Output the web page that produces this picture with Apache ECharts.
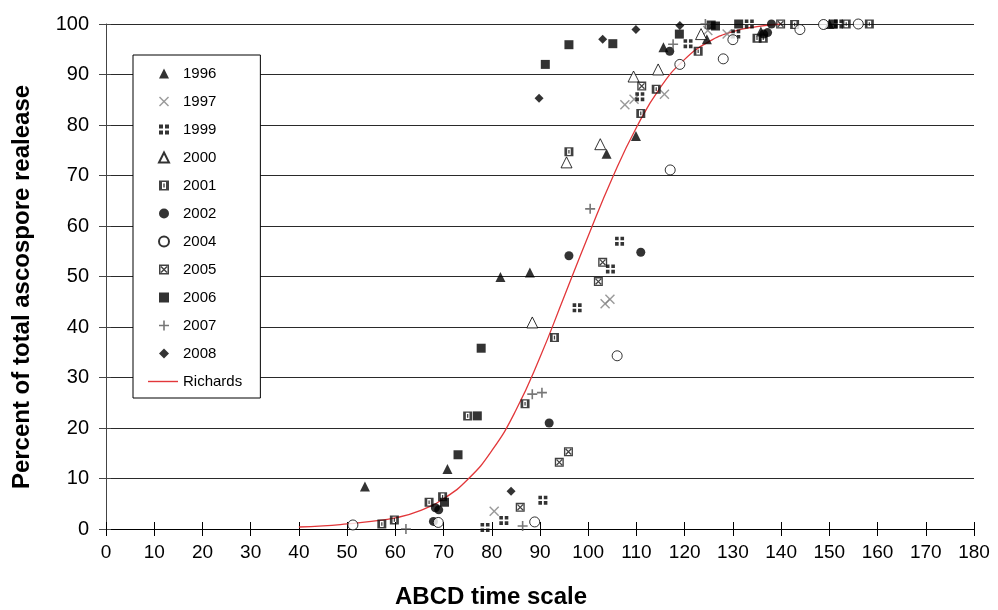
<!DOCTYPE html>
<html>
<head>
<meta charset="utf-8">
<script src="https://cdn.jsdelivr.net/npm/echarts@6/dist/echarts.min.js"></script>
<style>
html,body{margin:0;padding:0;background:#fff;}
#chart{width:998px;height:610px;}
</style>
</head>
<body>
<div id="chart"></div>
<script>
// ---- data ----
var xTicks = [0,10,20,30,40,50,60,70,80,90,100,110,120,130,140,150,160,170,180];
var yTicks = [0,10,20,30,40,50,60,70,80,90,100];

var s1996 = [[53.7,8.4],[70.8,11.9],[81.8,49.9],[87.9,50.8],[103.8,74.3],[109.9,77.8],[115.6,95.4],[124.6,97.0],[135.8,98.5],[150.0,100]];
var s1997 = [[80.5,3.5],[103.5,44.6],[104.5,45.5],[107.6,84.0],[109.5,85.1],[115.8,86.1],[124.8,98.7],[128.8,98.0]];
var s1999 = [[78.6,0.3],[82.5,1.7],[90.6,5.7],[97.7,43.8],[104.6,51.5],[106.5,57.0],[110.7,85.6],[120.7,96.1],[130.6,98.0],[133.4,100],[151.9,100]];
var s2000 = [[88.4,40.9],[95.5,72.6],[102.5,76.2],[109.4,89.6],[114.5,91.0],[123.4,98.0]];
var s2001 = [[57.2,1.0],[59.8,1.8],[67.0,5.3],[69.8,6.4],[75.0,22.4],[86.9,24.8],[93.0,37.9],[96.0,74.7],[110.9,82.3],[114.1,87.1],[122.8,94.6],[135.0,97.2],[136.3,97.2],[142.8,99.9],[153.5,100],[158.3,100]];
var s2002 = [[67.9,1.5],[68.3,4.2],[69.0,3.8],[91.9,21.0],[96.0,54.1],[110.9,54.8],[116.9,94.6],[136.4,98.0],[137.2,98.3],[138.0,100]];
var s2004 = [[51.2,0.8],[68.9,1.3],[88.9,1.4],[106.0,34.3],[117.0,71.1],[119.0,92.0],[128.0,93.1],[130.0,96.9],[143.9,98.9],[148.8,99.9],[156.0,100]];
var s2005 = [[85.9,4.3],[94.0,13.2],[95.9,15.3],[102.1,49.0],[103.0,52.8],[111.1,87.7],[139.9,100]];
var s2006 = [[70.2,5.3],[73.0,14.7],[77.0,22.4],[77.8,35.8],[91.1,92.0],[96.0,95.9],[105.1,96.1],[118.9,98.0],[125.5,99.8],[126.4,99.6],[131.2,100],[150.8,100]];
var s2007 = [[62.2,0],[86.4,0.6],[88.4,26.7],[90.4,27.0],[100.4,63.4],[117.6,96.0],[124.3,100]];
var s2008 = [[84.0,7.5],[89.8,85.3],[103.0,97.0],[109.9,98.9],[119.0,99.7]];
var richards = [[40,0.4],[45,0.6],[50,1.0],[55,1.5],[60,2.2],[65,3.6],[70,6.0],[75,9.8],[80,15.5],[85,23.5],[90,34],[95,46],[100,58],[105,69.5],[110,79.5],[115,87.5],[120,93],[125,96.5],[130,98.5],[135,99.5],[140,100]];

var yearNames = ['1996','1997','1999','2000','2001','2002','2004','2005','2006','2007','2008'];
var curveName = 'Richards';

// ---- symbols ----
var SYM_X = 'path://M0,1 L1,0 L5,4 L9,0 L10,1 L6,5 L10,9 L9,10 L5,6 L1,10 L0,9 L4,5 Z';
var SYM_4SQ = 'path://M0,0h4v4h-4z M6,0h4v4h-4z M0,6h4v4h-4z M6,6h4v4h-4z';
var SYM_2001 = 'path://M0,0h10v10h-10z M3,1.5v7h4v-7z M4.3,3h1.4v4h-1.4z';
var SYM_2005 = 'path://M0,0h10v10h-10z M1.5,1.5v7h7v-7z M1.5,2.5 L2.5,1.5 L8.5,7.5 L7.5,8.5 Z M7.5,1.5 L8.5,2.5 L2.5,8.5 L1.5,7.5 Z';
var SYM_PLUS = 'path://M4.2,0h1.6v4.2h4.2v1.6h-4.2v4.2h-1.6v-4.2h-4.2v-1.6h4.2z';

function sc(name, data, symbol, size, color, extra) {
  return {
    name: name, type: 'scatter', data: data, symbol: symbol, symbolSize: size,
    itemStyle: Object.assign({color: color}, extra || {}),
    emphasis: {disabled: true}, z: 3
  };
}

var chart = echarts.init(document.getElementById('chart'));
var FONT = '"Liberation Sans", Arial, sans-serif';

var option = {
  animation: false,
  backgroundColor: '#ffffff',
  grid: {left: 106, right: 24, top: 24, bottom: 81, containLabel: false},
  xAxis: [{
    type: 'value', min: 0, max: 180, interval: 10, position: 'bottom',
    axisLine: {show: true, lineStyle: {color: '#000', width: 1}},
    axisTick: {show: true, inside: false, length: 7, lineStyle: {color: '#000'}},
    axisLabel: {color: '#000', fontSize: 19, fontFamily: FONT, margin: 14},
    splitLine: {show: false}
  }, {
    type: 'value', min: 0, max: 180, interval: 10, position: 'bottom',
    axisLine: {show: false},
    axisTick: {show: true, inside: true, length: 7, lineStyle: {color: '#000'}},
    axisLabel: {show: false}, splitLine: {show: false}
  }],
  yAxis: [{
    type: 'value', min: 0, max: 100, interval: 10, position: 'left',
    axisLine: {show: true, lineStyle: {color: '#444', width: 1}},
    axisTick: {show: true, inside: false, length: 7, lineStyle: {color: '#444'}},
    axisLabel: {color: '#000', fontSize: 20, fontFamily: FONT, margin: 17},
    splitLine: {show: true, lineStyle: {color: '#2a2a2a', width: 1.2}}
  }, {
    type: 'value', min: 0, max: 100, interval: 10, position: 'left',
    axisLine: {show: false},
    axisTick: {show: true, inside: true, length: 5, lineStyle: {color: '#444'}},
    axisLabel: {show: false}, splitLine: {show: false}
  }],
  legend: [{
    orient: 'vertical', left: 133, top: 55,
    padding: [10, 44, 36, 25],
    itemWidth: 10, itemHeight: 10, itemGap: 11,
    backgroundColor: '#fff', borderColor: '#000', borderWidth: 1, borderRadius: 0,
    textStyle: {color: '#000', fontSize: 15, fontFamily: FONT, padding: [0,0,0,9], lineHeight: 17},
    data: yearNames
  }, {
    orient: 'vertical', left: 148, top: 373,
    padding: 0,
    itemWidth: 30, itemHeight: 1.4, itemGap: 0,
    textStyle: {color: '#000', fontSize: 15, fontFamily: FONT, lineHeight: 17},
    data: [{name: curveName, icon: 'rect'}]
  }],
  graphic: [
    {type: 'text', x: 491, y: 597, style: {text: 'ABCD time scale', font: 'bold 24px ' + FONT, fill: '#000', textAlign: 'center', textVerticalAlign: 'middle'}},
    {type: 'text', x: 22, y: 287, rotation: Math.PI / 2, style: {text: 'Percent of total ascospore realease', font: 'bold 24px ' + FONT, fill: '#000', textAlign: 'center', textVerticalAlign: 'middle'}}
  ],
  series: [
    sc('1996', s1996, 'triangle', 10, '#000'),
    sc('1997', s1997, SYM_X, 10, '#808080'),
    sc('1999', s1999, SYM_4SQ, 9, '#000'),
    sc('2000', s2000, 'triangle', 11, '#fff', {borderColor: '#000', borderWidth: 1}),
    sc('2001', s2001, SYM_2001, 9, '#111'),
    sc('2002', s2002, 'circle', 9, '#000'),
    sc('2004', s2004, 'circle', 10, '#fff', {borderColor: '#000', borderWidth: 1}),
    sc('2005', s2005, SYM_2005, 9, '#111'),
    sc('2006', s2006, 'rect', 9, '#000'),
    sc('2007', s2007, SYM_PLUS, 10, '#555'),
    sc('2008', s2008, 'diamond', 9, '#000'),
    {
      name: curveName, type: 'line', data: richards, smooth: true, symbol: 'none', showSymbol: false,
      lineStyle: {color: '#e2373a', width: 1.3}, itemStyle: {color: '#e2373a'},
      emphasis: {disabled: true}, z: 2
    }
  ]
};
chart.setOption(option);
</script>
</body>
</html>
